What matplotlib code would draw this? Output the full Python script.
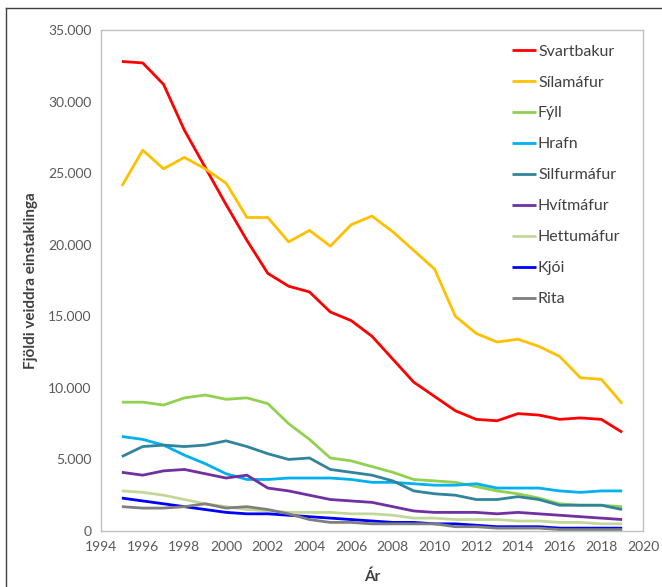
import matplotlib
matplotlib.use('Agg')
import matplotlib.pyplot as plt
from matplotlib.ticker import FuncFormatter
import numpy as np

plt.rcParams['font.family'] = ['Lato', 'DejaVu Sans']

years = np.arange(1995, 2020)

svartbakur = [32800, 32700, 31200, 28000, 25400, 22800, 20300, 18000, 17100, 16700, 15300, 14700, 13600,
              12000, 10400, 9400, 8400, 7800, 7700, 8200, 8100, 7800, 7900, 7800, 6900]
silamafur = [24100, 26600, 25300, 26100, 25300, 24300, 21900, 21900, 20200, 21000, 19900, 21400, 22000,
             20900, 19600, 18300, 15000, 13800, 13200, 13400, 12900, 12200, 10700, 10600, 8900]
fyll = [9000, 9000, 8800, 9300, 9500, 9200, 9300, 8900, 7500, 6400, 5100, 4900, 4500,
        4100, 3600, 3500, 3400, 3100, 2800, 2600, 2300, 1900, 1800, 1800, 1700]
hrafn = [6600, 6400, 6000, 5300, 4700, 4000, 3600, 3600, 3700, 3700, 3700, 3600, 3400,
         3400, 3300, 3200, 3200, 3300, 3000, 3000, 3000, 2800, 2700, 2800, 2800]
silfurmafur = [5200, 5900, 6000, 5900, 6000, 6300, 5900, 5400, 5000, 5100, 4300, 4100, 3900,
               3500, 2800, 2600, 2500, 2200, 2200, 2400, 2200, 1800, 1800, 1800, 1500]
hvitmafur = [4100, 3900, 4200, 4300, 4000, 3700, 3900, 3000, 2800, 2500, 2200, 2100, 2000,
             1700, 1400, 1300, 1300, 1300, 1200, 1300, 1200, 1100, 1000, 900, 800]
hettumafur = [2800, 2700, 2500, 2200, 1900, 1700, 1500, 1400, 1300, 1300, 1300, 1200, 1200,
              1100, 900, 900, 800, 800, 800, 700, 700, 600, 600, 500, 500]
kjoi = [2300, 2100, 1900, 1700, 1500, 1300, 1200, 1200, 1100, 1000, 900, 800, 700,
        600, 600, 500, 500, 400, 300, 300, 300, 200, 200, 200, 200]
rita = [1700, 1600, 1600, 1700, 1900, 1600, 1700, 1500, 1200, 800, 600, 600, 500,
        500, 500, 500, 300, 300, 200, 200, 200, 100, 100, 100, 100]

series = [
    ('Svartbakur', svartbakur, '#ff0000'),
    ('Sílamáfur', silamafur, '#ffc000'),
    ('Fýll', fyll, '#92d050'),
    ('Hrafn', hrafn, '#00b0f0'),
    ('Silfurmáfur', silfurmafur, '#31849b'),
    ('Hvítmáfur', hvitmafur, '#7030a0'),
    ('Hettumáfur', hettumafur, '#c4d79b'),
    ('Kjói', kjoi, '#0000ff'),
    ('Rita', rita, '#7f7f7f'),
]

fig = plt.figure(figsize=(6.62, 5.87), dpi=100)
ax = fig.add_axes([0.1526, 0.0954, 0.8187, 0.8535])

for name, vals, col in series:
    ax.plot(years, vals, color=col, lw=2.0, label=name, solid_capstyle='butt')

ax.set_xlim(1994, 2020)
ax.set_ylim(0, 35000)
ax.set_xticks(np.arange(1994, 2021, 2))
ax.set_yticks(np.arange(0, 35001, 5000))
ax.yaxis.set_major_formatter(FuncFormatter(lambda v, p: f'{int(v):,}'.replace(',', '.')))
ax.tick_params(length=0, labelsize=10, labelcolor='#595959', pad=7)
for s in ax.spines.values():
    s.set_color('#bfbfbf')
    s.set_linewidth(1.0)

ax.set_xlabel('Ár', fontsize=11, fontweight='bold', color='#404040', labelpad=12)
ax.set_ylabel('Fjöldi veiddra einstaklinga', fontsize=11, fontweight='bold', color='#404040', labelpad=7)

leg = ax.legend(loc='upper right', bbox_to_anchor=(0.985, 1.0), frameon=False, fontsize=11.5,
                handlelength=1.5, handletextpad=0.1, labelspacing=1.05)
for t in leg.get_texts():
    t.set_color('#404040')

# outer border of the screenshot (only left and top visible)
fig.add_artist(plt.Line2D([6 / 662, 6 / 662], [0, 1 - 8 / 587], color='#404040', lw=1.0))
fig.add_artist(plt.Line2D([6 / 662, 1], [1 - 8 / 587, 1 - 8 / 587], color='#404040', lw=1.0))

plt.savefig('out.png', dpi=100)
